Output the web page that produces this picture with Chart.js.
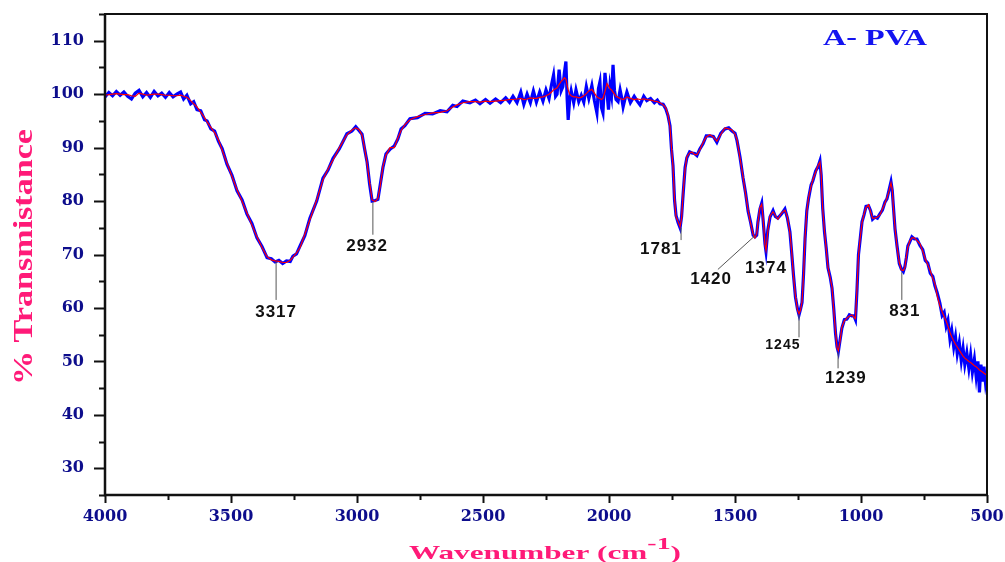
<!DOCTYPE html>
<html>
<head>
<meta charset="utf-8">
<script src="https://cdn.jsdelivr.net/npm/chart.js@4.4.1/dist/chart.umd.min.js"></script>
<style>
  html, body { margin: 0; padding: 0; background: #fff; }
</style>
</head>
<body>
<canvas id="ftir" width="1005" height="562"></canvas>
<script>
// FTIR spectrum of A- PVA
const wavenumbers = [
  4000, 3985, 3970, 3955, 3940, 3925, 3910, 3895, 3880, 3865, 3850, 3835, 3820, 3805, 3790, 3775,
  3760, 3745, 3730, 3715, 3700, 3688, 3675, 3660, 3648, 3635, 3620, 3605, 3595, 3580, 3565, 3550,
  3535, 3516, 3496, 3476, 3456, 3437, 3417, 3397, 3377, 3357, 3340, 3325, 3310, 3295, 3280, 3265,
  3254, 3240, 3226, 3207, 3187, 3160, 3135, 3115, 3095, 3070, 3040, 3020, 3005, 2992, 2980, 2970,
  2960, 2950, 2940, 2928, 2917, 2908, 2897, 2885, 2869, 2852, 2838, 2825, 2810, 2790, 2760, 2730,
  2700, 2670, 2643, 2620, 2603, 2580, 2552, 2530, 2512, 2490, 2472, 2450, 2430, 2410, 2395, 2381,
  2365, 2350, 2338, 2325, 2312, 2300, 2288, 2275, 2262, 2250, 2238, 2228, 2220, 2212, 2206, 2198,
  2190, 2183, 2177, 2171, 2166, 2162, 2156, 2150, 2140, 2131, 2120, 2110, 2100, 2090, 2080, 2068,
  2058, 2048, 2042, 2036, 2030, 2024, 2016, 2008, 2002, 1996, 1990, 1984, 1978, 1972, 1964, 1956,
  1950, 1944, 1936, 1929, 1915, 1900, 1888, 1877, 1862, 1850, 1835, 1820, 1808, 1798, 1785, 1775,
  1766, 1758, 1752, 1746, 1740, 1734, 1726, 1718, 1712, 1706, 1698, 1691, 1680, 1671, 1660, 1651,
  1640, 1627, 1614, 1600, 1586, 1572, 1556, 1540, 1525, 1512, 1500, 1492, 1480, 1468, 1458, 1448,
  1438, 1428, 1421, 1414, 1409, 1401, 1394, 1388, 1381, 1377, 1370, 1361, 1349, 1340, 1330, 1315,
  1302, 1292, 1282, 1275, 1268, 1260, 1252, 1246, 1240, 1234, 1228, 1222, 1215, 1208, 1198, 1191,
  1180, 1170, 1163, 1158, 1152, 1145, 1138, 1131, 1122, 1115, 1108, 1101, 1095, 1090, 1084, 1076,
  1066, 1056, 1046, 1036, 1028, 1022, 1016, 1010, 1003, 996, 988, 980, 970, 962, 954, 945,
  935, 925, 915, 905, 897, 889, 881, 876, 871, 865, 857, 848, 840, 832, 826, 820,
  814, 806, 798, 788, 778, 766, 755, 745, 735, 725, 715, 707, 698, 687, 678, 670,
  662, 655, 647, 640, 632, 625, 618, 610, 602, 595, 588, 580, 572, 565, 558, 550,
  543, 536, 530, 524, 518, 512, 506, 500
];

// red trace (smoothed)
const smoothT = [
  99.8, 99.9, 100.0, 100.1, 100.0, 99.9, 99.9, 99.7, 99.6, 100.2, 100.0, 99.8, 99.9, 100.0, 100.0, 99.9,
  99.8, 99.8, 99.7, 99.7, 99.8, 99.6, 99.4, 98.8, 98.2, 97.6, 96.6, 95.6, 94.8, 93.8, 92.8, 91.5,
  89.5, 87.1, 84.6, 82.1, 79.9, 77.8, 75.5, 73.3, 71.3, 69.6, 69.0, 68.8, 68.7, 68.5, 68.5, 68.9,
  69.5, 70.3, 71.3, 73.8, 76.5, 80.2, 84.0, 86.0, 87.7, 90.0, 92.4, 93.3, 93.7, 93.4, 92.3, 90.0,
  87.0, 83.5, 80.2, 79.9, 80.5, 82.8, 86.5, 88.6, 90.0, 90.0, 91.8, 93.2, 94.3, 95.2, 95.8, 96.2,
  96.5, 96.6, 96.9, 97.6, 98.0, 98.4, 98.6, 98.6, 98.5, 98.7, 98.6, 98.7, 98.8, 98.9, 99.0, 99.0,
  99.1, 99.2, 99.0, 99.1, 99.3, 99.2, 99.2, 99.4, 99.5, 99.7, 100.0, 100.4, 100.8, 101.0, 101.2, 101.8,
  102.4, 102.7, 103.1, 102.8, 101.6, 100.8, 100.0, 99.7, 99.5, 99.5, 99.3, 99.4, 99.7, 100.1, 100.6, 100.9,
  100.2, 99.5, 99.3, 99.2, 99.0, 99.2, 100.5, 102.0, 101.5, 101.0, 100.8, 100.4, 100.0, 99.6, 99.4, 99.2,
  99.1, 99.0, 99.2, 99.5, 99.2, 99.0, 99.1, 99.0, 99.1, 99.0, 98.9, 98.7, 98.6, 98.4, 98.0, 97.5,
  96.2, 93.9, 90.0, 86.4, 80.5, 77.0, 76.2, 75.2, 76.8, 81.5, 86.0, 88.3, 89.0, 89.2, 88.7, 88.7,
  89.5, 90.9, 92.0, 92.4, 92.0, 91.2, 92.5, 93.7, 93.5, 93.3, 92.5, 91.5, 88.0, 84.5, 81.3, 78.3,
  75.8, 73.8, 73.1, 73.8, 75.9, 78.8, 79.4, 76.5, 71.8, 70.8, 74.2, 77.2, 78.0, 77.3, 76.6, 77.8,
  78.3, 77.0, 74.0, 70.5, 66.0, 62.2, 59.6, 58.9, 59.6, 61.2, 66.0, 73.3, 78.0, 80.7, 82.8, 84.0,
  85.4, 86.7, 87.3, 85.0, 78.5, 74.5, 71.0, 67.7, 65.5, 63.9, 59.5, 55.5, 52.5, 52.0, 53.5, 56.4,
  57.6, 58.1, 58.5, 58.7, 58.3, 58.0, 63.5, 69.8, 73.2, 75.9, 77.6, 78.8, 79.3, 78.0, 76.8, 76.8,
  77.0, 77.4, 78.5, 79.6, 80.6, 81.8, 83.4, 82.2, 78.5, 75.0, 71.4, 68.5, 67.1, 67.0, 67.5, 69.6,
  71.4, 72.6, 73.1, 73.1, 72.6, 72.0, 70.6, 69.2, 68.1, 66.9, 65.5, 64.6, 62.4, 60.4, 59.3, 58.4,
  57.5, 56.6, 55.4, 54.6, 53.8, 53.2, 52.7, 52.1, 51.5, 51.0, 50.6, 50.3, 50.0, 49.8, 49.5, 49.2,
  49.0, 48.7, 48.4, 48.2, 48.0, 47.8, 47.6, 47.4
];

// blue trace (raw, noisy)
const rawT = [
  99.5, 100.3, 99.7, 100.5, 99.8, 100.4, 99.6, 99.1, 100.2, 100.7, 99.5, 100.3, 99.4, 100.5, 99.7, 100.2,
  99.4, 100.3, 99.5, 100.0, 100.4, 99.1, 99.8, 98.2, 98.6, 97.1, 96.9, 95.2, 95.0, 93.5, 93.1, 91.2,
  89.8, 86.9, 84.8, 81.9, 80.2, 77.6, 75.8, 73.1, 71.5, 69.4, 69.2, 68.6, 68.9, 68.3, 68.8, 68.7,
  69.7, 70.1, 71.6, 73.5, 76.8, 80.0, 84.3, 85.8, 88.0, 89.8, 92.6, 93.1, 93.9, 93.2, 92.5, 89.8,
  87.3, 83.2, 80.0, 80.1, 80.3, 83.0, 86.3, 88.8, 89.7, 90.3, 91.6, 93.5, 94.1, 95.4, 95.6, 96.4,
  96.3, 96.9, 96.7, 97.9, 97.7, 98.7, 98.4, 98.9, 98.2, 99.0, 98.3, 99.1, 98.4, 99.3, 98.5, 99.6,
  98.4, 100.4, 98.1, 100.0, 98.4, 100.6, 98.5, 100.4, 98.7, 100.8, 99.2, 101.8, 103.6, 99.6, 100.0, 104.6,
  100.6, 101.4, 104.0, 106.1, 99.0, 95.2, 99.0, 100.6, 98.4, 100.8, 98.6, 99.8, 98.5, 101.4, 99.2, 101.6,
  98.8, 96.5, 101.0, 102.3, 97.5, 96.5, 104.0, 100.2, 97.1, 101.5, 99.8, 105.5, 100.6, 99.0, 98.6, 100.8,
  99.4, 97.6, 99.2, 100.4, 98.4, 99.6, 98.7, 98.0, 99.6, 98.8, 99.2, 98.4, 98.9, 98.2, 98.1, 97.3,
  96.0, 94.1, 89.7, 86.6, 80.2, 77.3, 76.0, 75.0, 77.1, 81.2, 86.3, 88.1, 89.2, 89.0, 88.9, 88.5,
  89.7, 90.7, 92.2, 92.2, 92.1, 91.0, 92.7, 93.5, 93.7, 93.1, 92.7, 91.3, 88.2, 84.3, 81.5, 78.1,
  76.0, 73.6, 73.3, 73.6, 76.1, 78.5, 79.6, 76.2, 72.0, 70.6, 74.5, 77.0, 78.2, 77.1, 76.8, 77.6,
  78.5, 76.8, 74.2, 70.3, 66.2, 62.0, 59.8, 58.7, 59.8, 61.0, 66.3, 73.0, 78.2, 80.5, 83.0, 83.8,
  85.6, 86.5, 87.5, 84.8, 78.7, 74.3, 71.2, 67.5, 65.7, 63.7, 59.8, 55.2, 52.7, 51.8, 53.7, 56.2,
  57.8, 57.9, 58.7, 58.5, 58.5, 57.8, 63.3, 70.0, 73.0, 76.1, 77.4, 79.0, 79.1, 78.2, 76.6, 77.0,
  76.8, 77.6, 78.3, 79.8, 80.4, 82.0, 83.6, 82.0, 78.7, 74.8, 71.6, 68.3, 67.3, 66.8, 67.7, 69.4,
  71.6, 72.4, 73.3, 72.9, 72.9, 71.7, 70.9, 68.9, 68.4, 66.5, 65.9, 64.2, 62.9, 60.9, 58.6, 59.2,
  56.6, 57.7, 54.2, 55.8, 52.7, 54.6, 51.4, 53.5, 50.1, 52.4, 49.4, 51.6, 48.7, 51.2, 48.0, 50.4,
  47.2, 50.0, 44.2, 49.4, 46.2, 49.0, 46.0, 47.8
];

// peak annotations: label, tip of leader line, foot of leader line, label centre (data units)
const peakLabels = ['3317', '2932', '1781', '1420', '1374', '1245', '1239', '831'];
const peakTips = [[3321, 68.6], [2937, 79.8], [1714, 75.0], [1421, 73.5], null, [1246, 58.7], [1091, 51.7], [838, 66.7]];
const peakFeet = [[3321, 61.5], [2937, 73.7], [1714, 72.7], [1568, 67.2], null, [1246, 54.5], [1091, 48.7], [838, 61.5]];
const peakTextAt = [[3321, 59.2], [2960, 71.6], [1794, 71.0], [1595, 65.4], [1377, 67.5], [1310, 53.0], [1060, 46.9], [826, 59.4]];
const peakFontPx = [17, 17, 17, 17, 17, 14, 17, 17];

const PINK = '#ff1a78';
const NAVY = '#0d0d8c';

// draw text squeezed/stretched to a target width
function fitText(ctx, text, x, y, width) {
    const w = ctx.measureText(text).width;
    ctx.save();
    ctx.translate(x, y);
    ctx.scale(width / w, 1);
    ctx.fillText(text, 0, 0);
    ctx.restore();
}

const decorations = {
    id: 'decorations',
    afterDraw(chart) {
        const { ctx, chartArea: a, scales: { x, y } } = chart;
        ctx.save();

        // tick marks, major and minor
        ctx.strokeStyle = '#111';
        ctx.lineWidth = 2;
        ctx.beginPath();
        for (let v = 25; v <= 115; v += 5) {
            const py = Math.round(y.getPixelForValue(v)) + 0.5;
            const len = v % 10 === 0 ? 11 : 6;
            ctx.moveTo(a.left - len, py);
            ctx.lineTo(a.left, py);
        }
        for (let v = 500; v <= 4000; v += 250) {
            const px = Math.round(x.getPixelForValue(v)) + 0.5;
            const len = v % 500 === 0 ? 8 : 5;
            ctx.moveTo(px, a.bottom);
            ctx.lineTo(px, a.bottom + len);
        }
        ctx.stroke();

        // frame
        ctx.lineWidth = 2;
        ctx.strokeRect(a.left, a.top, a.right - a.left, a.bottom - a.top);
        ctx.lineWidth = 2.5;
        ctx.beginPath();
        ctx.moveTo(a.left, a.top);
        ctx.lineTo(a.left, a.bottom);
        ctx.lineTo(a.right, a.bottom);
        ctx.stroke();

        // peak labels
        ctx.strokeStyle = '#555';
        ctx.lineWidth = 1;
        ctx.fillStyle = '#111';
        ctx.textAlign = 'center';
        ctx.textBaseline = 'middle';
        peakLabels.forEach((label, i) => {
            if (peakTips[i]) {
                ctx.beginPath();
                ctx.moveTo(x.getPixelForValue(peakTips[i][0]), y.getPixelForValue(peakTips[i][1]));
                ctx.lineTo(x.getPixelForValue(peakFeet[i][0]), y.getPixelForValue(peakFeet[i][1]));
                ctx.stroke();
            }
            ctx.font = `bold ${peakFontPx[i]}px "Liberation Sans", Arial, sans-serif`;
            ctx.letterSpacing = '1px';
            ctx.fillText(label, x.getPixelForValue(peakTextAt[i][0]), y.getPixelForValue(peakTextAt[i][1]));
        });
        ctx.letterSpacing = '0px';

        // sample name
        ctx.fillStyle = '#1414f0';
        ctx.textAlign = 'left';
        ctx.textBaseline = 'alphabetic';
        ctx.font = 'bold 24px "Liberation Serif", "Times New Roman", serif';
        fitText(ctx, 'A- PVA', 823, 45, 104);

        // y title
        ctx.fillStyle = PINK;
        ctx.font = 'bold 28px "Liberation Serif", "Times New Roman", serif';
        ctx.save();
        ctx.translate(32, 385);
        ctx.rotate(-Math.PI / 2);
        fitText(ctx, '% Transmistance', 0, 0, 256);
        ctx.restore();

        // x title with superscript
        ctx.save();
        const mainFont = 'bold 19px "Liberation Serif", "Times New Roman", serif';
        const supFont = 'bold 17px "Liberation Serif", "Times New Roman", serif';
        ctx.font = mainFont;
        const w1 = ctx.measureText('Wavenumber (cm').width;
        const w3 = ctx.measureText(')').width;
        ctx.font = supFont;
        const w2 = ctx.measureText('-1').width;
        const sx = 272 / (w1 + w2 + w3);
        ctx.translate(409, 559);
        ctx.scale(sx, 1);
        ctx.font = mainFont;
        ctx.fillText('Wavenumber (cm', 0, 0);
        ctx.font = supFont;
        ctx.fillText('-1', w1, -10);
        ctx.font = mainFont;
        ctx.fillText(')', w1 + w2, 0);
        ctx.restore();

        ctx.restore();
    }
};

const tickFont = { family: '"DejaVu Serif", serif', size: 16, weight: 'bold' };

new Chart(document.getElementById('ftir'), {
    type: 'line',
    data: {
        datasets: [
            {
                label: 'smoothed',
                data: wavenumbers.map((w, i) => ({ x: w, y: smoothT[i] })),
                borderColor: '#ff0000',
                borderWidth: 1.2,
                pointRadius: 0,
                order: 0
            },
            {
                label: 'A- PVA',
                data: wavenumbers.map((w, i) => ({ x: w, y: rawT[i] })),
                borderColor: '#0000ff',
                borderWidth: 3.2,
                pointRadius: 0,
                order: 1
            }
        ]
    },
    options: {
        responsive: false,
        animation: false,
        layout: { autoPadding: false, padding: { top: 14, right: 18, left: 0, bottom: 0 } },
        plugins: { legend: { display: false }, tooltip: { enabled: false } },
        scales: {
            x: {
                type: 'linear',
                reverse: true,
                min: 500,
                max: 4000,
                grid: { display: false, drawTicks: false },
                border: { display: false },
                ticks: {
                    stepSize: 500,
                    color: NAVY,
                    font: tickFont,
                    padding: 12,
                    maxRotation: 0,
                    autoSkip: false,
                    callback: v => String(v)
                },
                afterFit: s => {
                    s.height = 67;
                    s.paddingLeft = 0;
                    s.paddingRight = 0;
                }
            },
            y: {
                min: 25,
                max: 115,
                grid: { display: false, drawTicks: false },
                border: { display: false },
                ticks: {
                    stepSize: 5,
                    autoSkip: false,
                    color: NAVY,
                    font: tickFont,
                    padding: 21,
                    callback: v => (v % 10 === 0 && v >= 30 && v <= 110 ? String(v) : '')
                },
                afterFit: s => {
                    s.width = 105;
                    s.paddingTop = 0;
                    s.paddingBottom = 0;
                }
            }
        }
    },
    plugins: [decorations]
});
</script>
</body>
</html>
